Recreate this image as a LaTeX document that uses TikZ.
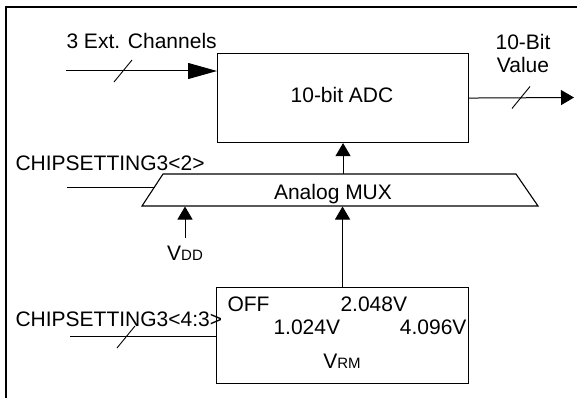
\documentclass[tikz,border=0pt]{standalone}
\usepackage{fontspec}
\setmainfont{Liberation Sans}
\usetikzlibrary{arrows.meta,calc}
\newcommand\busslash[1]{\draw[slashline] ([shift={(-9,11)}]#1) -- ([shift={(9,-11)}]#1);}
\begin{document}
\begin{tikzpicture}[x=1pt,y=-1pt, line width=1pt,
  box/.style={draw, line width=1.1pt, inner sep=0pt, anchor=north west},
  lbl/.style={inner sep=0pt, font=\fontsize{21}{25}\selectfont},
  arr/.style={-{Triangle[length=13pt,width=15pt]}},
  bigarr/.style={-{Triangle[length=29pt,width=16pt]}},
  slashline/.style={line width=0.9pt}]
\useasboundingbox (0,0) rectangle (577,398);
% frame
\draw[line width=1.1pt] (6,398) -- (6,7) -- (577,7);
% ADC
\node[box, minimum width=251pt, minimum height=89pt] (adc) at (217,53) {};
\node[lbl, anchor=base] (adclbl) at (342,103) {10-bit ADC};
% VRM
\node[box, minimum width=252pt, minimum height=96pt] (vrm) at (216,287) {};
\node[lbl, anchor=base west] (off) at (227,311) {OFF};
\node[lbl, anchor=base west] (v2) at (340,311) {2.048V};
\node[lbl, anchor=base west] (v1) at (273,334) {1.024V};
\node[lbl, anchor=base east] (v4) at (467,334) {4.096V};
\node[lbl, anchor=base] (vrmlbl) at (342,368) {V\fontsize{15}{18}\selectfont RM};
% MUX
\node[inner sep=0pt, minimum width=396pt, minimum height=32pt] (mux) at (340,190) {};
\draw[line width=1.1pt] (163,174) -- (516,174) -- (538,206) -- (142,206) -- cycle;
\node[lbl, anchor=base] (muxlbl) at (333,199) {Analog MUX};
% labels
\node[lbl, anchor=base west] (extlbl) at (66,49) {3 Ext. Channels};
\node[lbl, anchor=base] (outlbl1) at (523,50) {10-Bit};
\node[lbl, anchor=base] (outlbl2) at (523,73) {Value};
\node[lbl, anchor=base west] (cs2) at (15,170) {CHIPSETTING3<2>};
\node[lbl, anchor=base west] (cs43) at (15,326) {CHIPSETTING3<4:3>};
\node[lbl, anchor=base] (vdd) at (185,260) {V\fontsize{15}{18}\selectfont DD};
% connectors
\coordinate (in1) at (66,71);
\draw[bigarr] (in1) -- (in1 -| adc.west);
\coordinate (s1) at (123,71);
\busslash{s1}
\coordinate (out) at (574,97.5);
\draw[arr] (adc.east) -- (out);
\coordinate (s2) at (521,97.5);
\busslash{s2}
\draw[arr] (adc.south |- mux.north) -- (adc.south);
\draw[arr] (vrm.north) -- (vrm.north |- mux.south);
\draw[arr] ([yshift=7pt]vdd.north) -- (vdd.north |- mux.south);
\coordinate (c2) at (67,187);
\coordinate (muxl) at (154.5,187);
\draw (c2) -- (muxl);
\coordinate (c43) at (70,336);
\draw (c43) -- (c43 -| vrm.west);
\coordinate (s3) at (126,337);
\busslash{s3}
\end{tikzpicture}
\end{document}
